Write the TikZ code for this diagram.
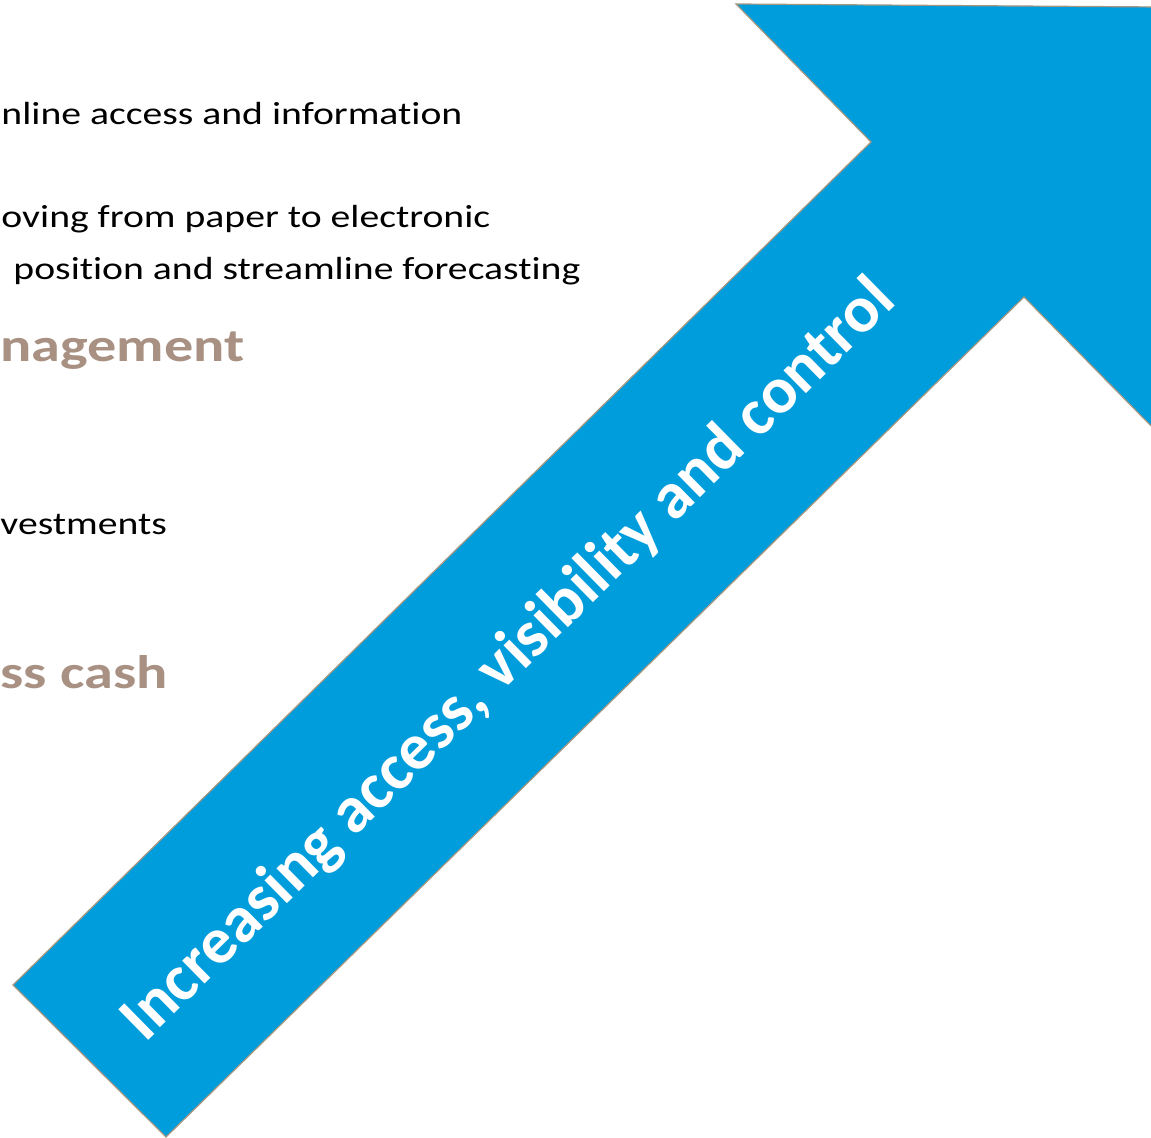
\documentclass[tikz,border=0pt]{standalone}
\usepackage{fontspec}
\setmainfont{Carlito}[Ligatures=NoCommon]
\usepackage{tikz}
\definecolor{bandblue}{RGB}{0,157,220}
\definecolor{bandedge}{RGB}{166,150,128}
\definecolor{headbrown}{RGB}{168,145,130}

\begin{document}
\begin{tikzpicture}[x=0.5pt, y=-0.5pt,
  body/.style = {anchor=base west, inner sep=0pt, font=\fontsize{16}{19}\selectfont, xscale=1.24},
  head/.style = {anchor=base west, inner sep=0pt, text=headbrown, font=\fontsize{23.5}{28}\selectfont\bfseries, xscale=1.24},
  band/.style = {fill=bandblue, draw=bandedge, line width=0.6pt, line join=miter}]
	\useasboundingbox (0,0) rectangle (1151,1138);
	\clip (0,0) rectangle (1151,1138);
	% arrow
	\coordinate (HL) at (736,4);
	\coordinate (TIP) at (1300,8);
	\coordinate (HR) at (1300,577);
	\coordinate (NR) at (1024,297);
	\coordinate (TB) at (166,1137);
	\coordinate (TL) at (13,985);
	\coordinate (NL) at (871,142);
	\draw[band] (HL) -- (TIP) -- (HR) -- (NR) -- (TB) -- (TL) -- (NL) -- cycle;
	\node[text=white, font=\fontsize{33}{40}\selectfont\bfseries, rotate=44.5, inner sep=0pt] (lbl) at (509,661) {Increasing access, visibility and control};
	% texts
	\node[body] (t1) at (1,125) {nline access and information};
	\node[body] (t2) at (1,228) {oving from paper to electronic};
	\node[body] (t3) at (13,280) {position and streamline forecasting};
	\node[head] (h1) at (0,362) {nagement};
	\node[body] (t4) at (0,535) {vestments};
	\node[head] (h2) at (0,688) {ss cash};
\end{tikzpicture}
\end{document}
